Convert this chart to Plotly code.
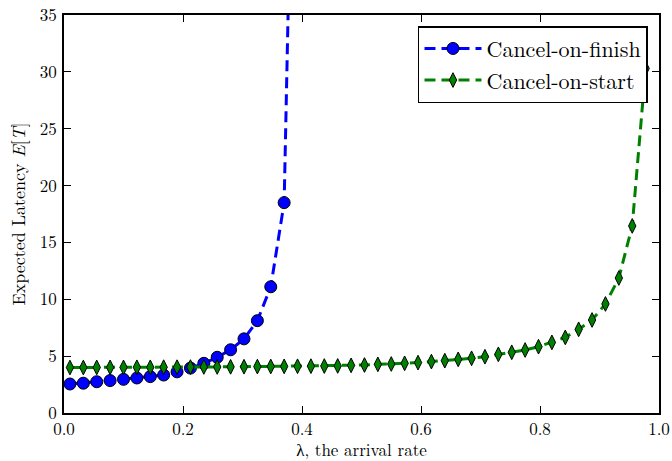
import plotly.graph_objects as go

# arrival rates (lambda) sampled in the reference
lam = [0.01, 0.0325, 0.055, 0.0775, 0.1, 0.1225, 0.145, 0.1675, 0.19, 0.2125,
       0.235, 0.2575, 0.28, 0.3025, 0.325, 0.3475, 0.37, 0.3925, 0.415, 0.4375,
       0.46, 0.4825, 0.505, 0.5275, 0.55, 0.5725, 0.595, 0.6175, 0.64, 0.6625,
       0.685, 0.7075, 0.73, 0.7525, 0.775, 0.7975, 0.82, 0.8425, 0.865, 0.8875,
       0.91, 0.9325, 0.955, 0.9775]

# Cancel-on-finish (blows up near lambda ~ 0.38)
finish_y = [2.55, 2.62, 2.75, 2.85, 2.96, 3.08, 3.20, 3.34, 3.62, 3.95,
            4.37, 4.90, 5.56, 6.52, 8.12, 11.1, 18.5, 75.0]

# Cancel-on-start
start_y = [4.00, 4.00, 4.01, 4.01, 4.01, 4.02, 4.02, 4.03, 4.03, 4.04,
           4.05, 4.05, 4.06, 4.07, 4.08, 4.09, 4.10, 4.11, 4.12, 4.13,
           4.14, 4.19, 4.22, 4.28, 4.31, 4.37, 4.43, 4.52, 4.60, 4.72,
           4.81, 4.95, 5.16, 5.34, 5.54, 5.83, 6.21, 6.65, 7.36, 8.18,
           9.59, 11.87, 16.45, 30.3]

x_ticks = [0.0, 0.2, 0.4, 0.6, 0.8, 1.0]
x_tick_text = ["0.0", "0.2", "0.4", "0.6", "0.8", "1.0"]
y_ticks = [0, 5, 10, 15, 20, 25, 30, 35]

FONT = "Latin Modern Roman, CMU Serif, Liberation Serif, serif"

fig = go.Figure()
fig.add_trace(go.Scatter(
    x=lam[:len(finish_y)], y=finish_y, name="Cancel-on-finish",
    mode="lines+markers",
    line=dict(color="#0000ff", width=3, dash="11px,6px"),
    marker=dict(symbol="circle", size=12, color="#0000ff",
                line=dict(color="black", width=1)),
))
fig.add_trace(go.Scatter(
    x=lam, y=start_y, name="Cancel-on-start",
    mode="lines+markers",
    line=dict(color="#008000", width=3, dash="11px,6px"),
    marker=dict(symbol="diamond-tall", size=10.5, color="#008000",
                line=dict(color="black", width=1)),
))

axis_common = dict(
    showgrid=False, zeroline=False, showline=True, linecolor="black",
    linewidth=1.5, mirror="ticks", ticks="inside", ticklen=7, tickwidth=1,
    tickcolor="black", tickfont=dict(family=FONT, size=17, color="black"),
    automargin=False,
)

fig.update_xaxes(range=[0, 1], tickvals=x_ticks, ticktext=x_tick_text,
                 ticklabelstandoff=0,
                 title=dict(text="λ, the arrival rate", standoff=5,
                            font=dict(family=FONT, size=17, color="black")),
                 **axis_common)
fig.update_yaxes(range=[0, 35], tickvals=y_ticks, ticklabelstandoff=2,
                 title=dict(text="Expected Latency <i>E</i>[<i>T</i>]", standoff=10,
                            font=dict(family=FONT, size=18, color="black")),
                 **axis_common)

fig.update_layout(
    width=672, height=461,
    margin=dict(l=64, r=13, t=15, b=48),
    plot_bgcolor="white", paper_bgcolor="white",
    font=dict(family=FONT, color="black"),
    legend=dict(x=0.9815, y=0.972, xanchor="right", yanchor="top",
                bgcolor="white", bordercolor="black", borderwidth=1.5,
                font=dict(family=FONT, size=22, color="black"),
                itemwidth=57),
    showlegend=True,
)

fig.write_html("out.html")
